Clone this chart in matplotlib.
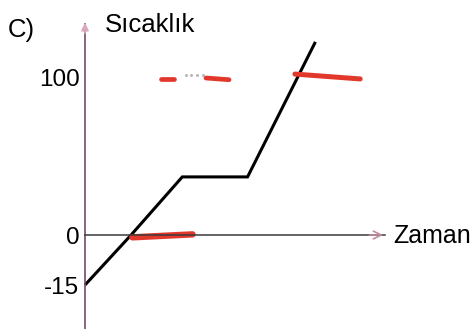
import numpy as np
import matplotlib.pyplot as plt

plt.rcParams['font.family'] = ['Liberation Sans', 'DejaVu Sans']

# Heating curve: time (arbitrary units) vs temperature
zaman = [0, 3.6, 7.6, 12.7, 18.0]
sicaklik = [-15, 0, 37, 37, 123]

ytick_vals = [-15, 0, 100]
ytick_labels = ['-15', '0', '100']

# Red pen marks (time, temperature)
mark_zero_t = [3.7, 8.4]
mark_zero_y = [-0.7, 0.4]
mark_top_t = [16.4, 21.5]
mark_top_y = [102.5, 99.4]
dash1_t = [5.9, 6.95]
dash1_y = [99.4, 99.4]
dash2_t = [9.45, 11.25]
dash2_y = [100.0, 98.9]
dots_t = [7.9, 8.3, 8.75, 9.2]
dots_y = [101.9, 101.9, 101.9, 101.9]

# Not-to-scale temperature axis: piecewise linear mapping
t_knots = [-60, -15, 0, 100, 250]
pos_knots = [-435, -285, -235, -78, 157.5]


def fwd(v):
    return np.interp(v, t_knots, pos_knots)


def inv(v):
    return np.interp(v, pos_knots, t_knots)


fig = plt.figure(figsize=(4.76, 3.29), dpi=100)
ax = fig.add_axes([0, 0, 1, 1])
ax.set_yscale('function', functions=(fwd, inv))
ax.set_xlim(-85 / 12.8, (476 - 85) / 12.8)
ax.set_ylim(float(inv(-329)), float(inv(0)))

# axes through the origin
for side in ['top', 'right']:
    ax.spines[side].set_visible(False)
ax.spines['left'].set_position(('data', 0))
ax.spines['left'].set_bounds(float(inv(-329)), float(inv(-24)))
ax.spines['left'].set_color('#6e4d66')
ax.spines['left'].set_linewidth(1.2)
ax.spines['bottom'].set_position(('data', 0))
ax.spines['bottom'].set_bounds(0, 23.4)
ax.spines['bottom'].set_color('#3a3a3a')
ax.spines['bottom'].set_linewidth(1.1)

ax.set_xticks([])
ax.set_yticks(ytick_vals)
ax.set_yticklabels(ytick_labels, fontsize=17.5)
ax.tick_params(axis='y', length=0, pad=4)
ax.yaxis.set_minor_locator(plt.NullLocator())

# arrow heads
ax.annotate('', xy=(0, float(inv(-20))), xytext=(0, float(inv(-36))),
            arrowprops=dict(arrowstyle='-|>', color='#dca6bd', lw=1.2, mutation_scale=11))
ax.annotate('', xy=(23.5, 0), xytext=(22.0, 0),
            arrowprops=dict(arrowstyle='->', color='#c08a9c', lw=1.2, mutation_scale=14))

ax.plot(zaman, sicaklik, color='black', lw=2.2, solid_joinstyle='miter', solid_capstyle='butt')

# red marks
red = '#e2382b'
ax.plot(mark_zero_t, mark_zero_y, color=red, lw=4.6, solid_capstyle='round')
ax.plot(mark_top_t, mark_top_y, color=red, lw=3.6, solid_capstyle='round')
ax.plot(dash1_t, dash1_y, color=red, lw=3.4, solid_capstyle='round')
ax.plot(dash2_t, dash2_y, color=red, lw=3.4, solid_capstyle='round')
ax.plot(dots_t, dots_y, color='#b8b8b8', lw=0, marker='o', ms=1.2)

# labels
ax.text(8 / 476, 1 - 37 / 329, 'C)', transform=ax.transAxes, fontsize=18.5, va='baseline')
ax.text(105 / 476, 1 - 32 / 329, 'Sıcaklık', transform=ax.transAxes, fontsize=18.5, va='baseline')
ax.text(393 / 476, 1 - 243 / 329, 'Zaman', transform=ax.transAxes, fontsize=18, va='baseline')

fig.savefig('out.png', dpi=100, facecolor='white')
